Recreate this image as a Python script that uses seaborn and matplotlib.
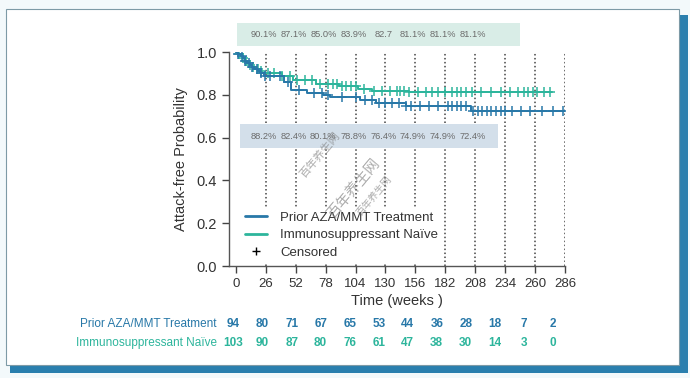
import numpy as np
import pandas as pd
import matplotlib.pyplot as plt
import seaborn as sns
from matplotlib.patches import Rectangle
from matplotlib.lines import Line2D
from matplotlib import transforms

# Kaplan-Meier step data (weeks, attack-free probability)
prior_t = [0, 2, 4, 6, 8, 10, 12, 14, 16, 19, 21, 24, 42, 48, 62, 76, 82, 108, 122, 148, 204, 286]
prior_s = [1.0, 0.99, 0.98, 0.97, 0.96, 0.95, 0.94, 0.93, 0.92, 0.91, 0.90, 0.888, 0.86, 0.824,
           0.81, 0.801, 0.788, 0.776, 0.764, 0.749, 0.724, 0.724]
naive_t = [0, 2, 4, 6, 8, 10, 12, 14, 17, 20, 23, 40, 50, 70, 90, 106, 118, 150, 275]
naive_s = [1.0, 0.99, 0.98, 0.97, 0.96, 0.95, 0.94, 0.93, 0.92, 0.91, 0.90, 0.89, 0.871,
           0.85, 0.839, 0.827, 0.82, 0.811, 0.811]

prior_cens = [2, 5, 8, 11, 14, 18, 22, 25, 30, 38, 45, 55, 68, 75, 80, 92, 104, 112, 118, 124,
              130, 136, 142, 148, 152, 160, 168, 176, 184, 188, 192, 196, 200, 206, 210, 214,
              218, 222, 226, 230, 234, 240, 248, 256, 266, 276, 284]
naive_cens = [3, 6, 9, 12, 15, 19, 22, 28, 33, 40, 47, 53, 60, 66, 73, 80, 84, 88, 92, 96, 100,
              104, 111, 120, 127, 134, 140, 143, 146, 150, 158, 165, 170, 176, 182, 188, 192,
              196, 200, 205, 213, 222, 230, 238, 245, 250, 254, 258, 262, 268, 273]

week_ticks = [0, 26, 52, 78, 104, 130, 156, 182, 208, 234, 260, 286]
naive_pct = ["90.1%", "87.1%", "85.0%", "83.9%", "82.7", "81.1%", "81.1%", "81.1%"]
prior_pct = ["88.2%", "82.4%", "80.1%", "78.8%", "76.4%", "74.9%", "74.9%", "72.4%"]
pct_weeks = [26, 52, 78, 104, 130, 156, 182, 208]

prior_risk = [94, 80, 71, 67, 65, 53, 44, 36, 28, 18, 7, 2]
naive_risk = [103, 90, 87, 80, 76, 61, 47, 38, 30, 14, 3, 0]

c_prior = '#2878a8'
c_naive = '#2db59c'

sns.set_style("ticks")
plt.rcParams['font.family'] = ['Liberation Sans', 'DejaVu Sans']

fig = plt.figure(figsize=(6.9, 3.78), dpi=100)
fig.patch.set_facecolor('#f3f9fb')

# card with shadow
fig.patches.append(Rectangle((10 / 690, 1 - 373 / 378), 678 / 690, 358 / 378,
                             transform=fig.transFigure, facecolor='#2a7fae', edgecolor='none', zorder=-3))
fig.patches.append(Rectangle((6 / 690, 1 - 365 / 378), 673 / 690, 356 / 378,
                             transform=fig.transFigure, facecolor='white', edgecolor='#7d9aa6',
                             linewidth=0.8, zorder=-2))

ax = fig.add_axes([229 / 690, 1 - 266 / 378, 336 / 690, 214 / 378])
ax.set_facecolor('none')


def step_value(times, surv, t):
    idx = np.searchsorted(times, t, side='right') - 1
    return np.array(surv)[idx]


prior_df = pd.DataFrame({'week': prior_t, 'p': prior_s})
naive_df = pd.DataFrame({'week': naive_t, 'p': naive_s})

ax.vlines(week_ticks[1:], 0, 1.0, colors='#444444', linestyles=(0, (1, 1.6)), linewidth=1.1, zorder=1)

sns.lineplot(data=naive_df, x='week', y='p', drawstyle='steps-post', color=c_naive, lw=1.4, ax=ax, zorder=3)
sns.lineplot(data=prior_df, x='week', y='p', drawstyle='steps-post', color=c_prior, lw=1.4, ax=ax, zorder=4)
ax.scatter(naive_cens, step_value(naive_t, naive_s, naive_cens), marker='+', s=45,
           color=c_naive, linewidths=1.1, zorder=3)
ax.scatter(prior_cens, step_value(prior_t, prior_s, prior_cens), marker='+', s=45,
           color=c_prior, linewidths=1.1, zorder=4)

# percentage bands
ax.add_patch(Rectangle((1, 1.028), 246, 0.107, facecolor='#d9ede7', edgecolor='none',
                       clip_on=False, zorder=0))
ax.add_patch(Rectangle((3.5, 0.551), 224.5, 0.113, facecolor='#d3dfea', edgecolor='none',
                       clip_on=False, zorder=5))
for w, s in zip(pct_weeks, naive_pct):
    ax.text(w - 2, 1.08, s, ha='center', va='center', fontsize=6.7, color='#6b6b6b', clip_on=False)
for w, s in zip(pct_weeks, prior_pct):
    ax.text(w - 2, 0.607, s, ha='center', va='center', fontsize=6.7, color='#6b6b6b', zorder=6)

ax.set_xlim(-6, 286)
ax.set_ylim(0, 1.0)
ax.set_xticks(week_ticks)
ax.set_yticks([0, 0.2, 0.4, 0.6, 0.8, 1.0])
ax.set_yticklabels(['0.0', '0.2', '0.4', '0.6', '0.8', '1.0'])
ax.tick_params(axis='both', colors='#444444', labelcolor='#333333', length=5, width=1)
ax.tick_params(axis='x', labelsize=9.5)
ax.tick_params(axis='y', labelsize=10.5)
for sp in ['left', 'bottom']:
    ax.spines[sp].set_color('#555555')
    ax.spines[sp].set_linewidth(1)
sns.despine(ax=ax)
ax.set_xlabel('Time (weeks )', fontsize=10.5, color='#333333', labelpad=3)
ax.set_ylabel('Attack-free Probability', fontsize=10.5, color='#333333', labelpad=6)

handles = [Line2D([], [], color=c_prior, lw=2),
           Line2D([], [], color=c_naive, lw=2),
           Line2D([], [], color='black', marker='+', linestyle='none', markersize=6)]
leg = ax.legend(handles, ['Prior AZA/MMT Treatment', 'Immunosuppressant Naïve', 'Censored'],
                loc='lower left', bbox_to_anchor=(0.015, -0.015), frameon=True, fontsize=9.5,
                handlelength=1.7, handletextpad=1.0, labelspacing=0.4, borderpad=0.3)
leg.get_frame().set_facecolor('white')
leg.get_frame().set_edgecolor('none')
leg.get_frame().set_alpha(1)
leg.set_zorder(7)
for t in leg.get_texts():
    t.set_color('#333333')

# watermark
for (x, y, s, fs) in [(0.27, 0.52, '百年养生网', 8), (0.37, 0.36, '百年养生网', 10.5), (0.43, 0.33, '百年养生网', 7)]:
    ax.text(x, y, s, transform=ax.transAxes, rotation=50, fontsize=fs, color='#777777', alpha=0.6,
            family=['Noto Sans CJK SC', 'DejaVu Sans'], ha='center', va='center', zorder=8)

# number at risk table
blend = transforms.blended_transform_factory(ax.transData, fig.transFigure)
rows = [(prior_risk, 'Prior AZA/MMT Treatment', c_prior, 1 - 324 / 378),
        (naive_risk, 'Immunosuppressant Naïve', c_naive, 1 - 343 / 378)]
for vals, label, col, yy in rows:
    fig.text(217 / 690, yy, label, ha='right', va='center', fontsize=8.5, color=col)
    for w, v in zip(week_ticks, vals):
        ax.text(w * 0.97 - 2, yy, str(v), transform=blend, ha='center', va='center',
                fontsize=8.5, color=col, fontweight='bold', clip_on=False)

fig.savefig('out.png', dpi=100, facecolor=fig.get_facecolor())
